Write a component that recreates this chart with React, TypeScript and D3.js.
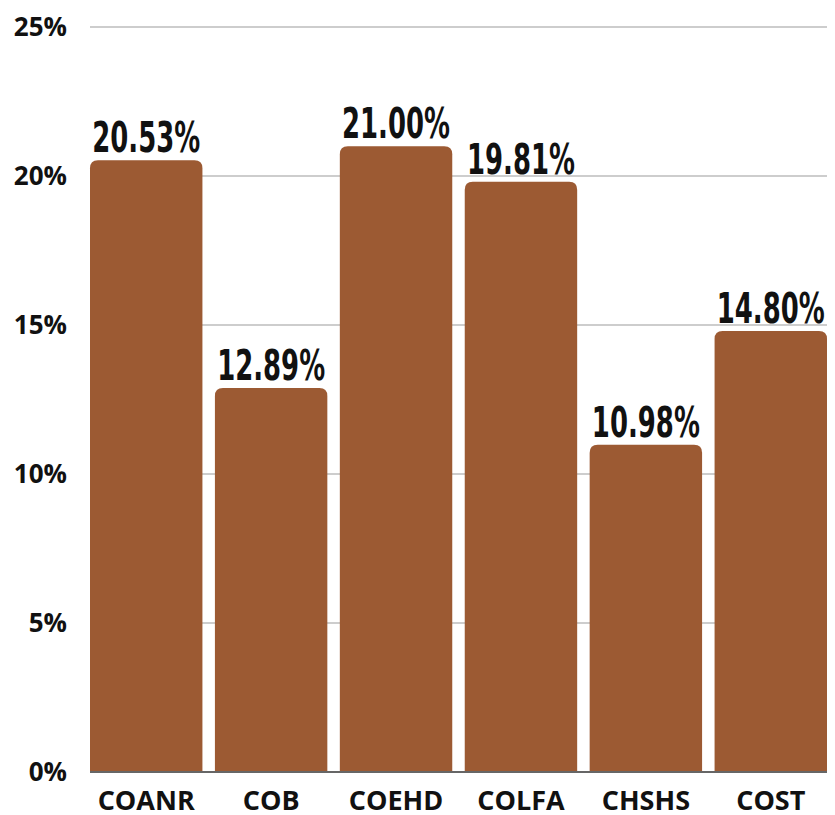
import React from "react";
import * as d3 from "d3";

const categories = ["COANR", "COB", "COEHD", "COLFA", "CHSHS", "COST"];
const values = [20.53, 12.89, 21.0, 19.81, 10.98, 14.8];
const yTicks = [0, 5, 10, 15, 20, 25];

const W = 835;
const H = 815;
const left = 90;
const right = 827;
const top = 27;
const bottom = 772;
const barColor = "#9C5A33";

function topRoundedRect(x: number, y: number, w: number, h: number, r: number) {
  const rr = Math.min(r, h / 2, w / 2);
  return `M${x},${y + h}V${y + rr}Q${x},${y} ${x + rr},${y}H${x + w - rr}Q${x + w},${y} ${x + w},${y + rr}V${y + h}Z`;
}

export default function App() {
  const x = d3.scaleBand<string>().domain(categories).range([left, right]).paddingInner(0.1).paddingOuter(0);
  const y = d3.scaleLinear().domain([0, 25]).range([bottom, top]);
  const fmt = (v: number) => v.toFixed(2) + "%";
  return (
    <svg width={W} height={H} style={{ position: "absolute", left: 0, top: 0, background: "#fff" }}>
      {yTicks.map((t) => (
        <g key={t}>
          {t > 0 && (
            <line x1={left} x2={right} y1={y(t)} y2={y(t)} stroke="#bdbdbd" strokeWidth={1.5} />
          )}
          <text
            x={67}
            y={y(t)}
            dy="0.36em"
            textAnchor="end"
            fontFamily="'Open Sans', sans-serif"
            fontWeight={700}
            fontSize={26}
            fill="#111"
          >
            {t}%
          </text>
        </g>
      ))}
      {categories.map((c, i) => {
        const bx = x(c)!;
        const bw = x.bandwidth();
        const by = y(values[i]);
        return (
          <g key={c}>
            <path d={topRoundedRect(bx, by, bw, bottom - by, 8)} fill={barColor} />
            <text
              x={bx + bw / 2}
              y={by - 8}
              textAnchor="middle"
              fontFamily="'DejaVu Sans', sans-serif"
              fontWeight={700}
              fontSize={43}
              textLength={108}
              lengthAdjust="spacingAndGlyphs"
              fill="#111"
            >
              {fmt(values[i])}
            </text>
            <text
              x={bx + bw / 2}
              y={810}
              textAnchor="middle"
              fontFamily="'Open Sans', sans-serif"
              fontWeight={700}
              fontSize={27}
              fill="#111"
            >
              {c}
            </text>
          </g>
        );
      })}
      <line x1={left} x2={right} y1={bottom} y2={bottom} stroke="#666" strokeWidth={2} />
    </svg>
  );
}
